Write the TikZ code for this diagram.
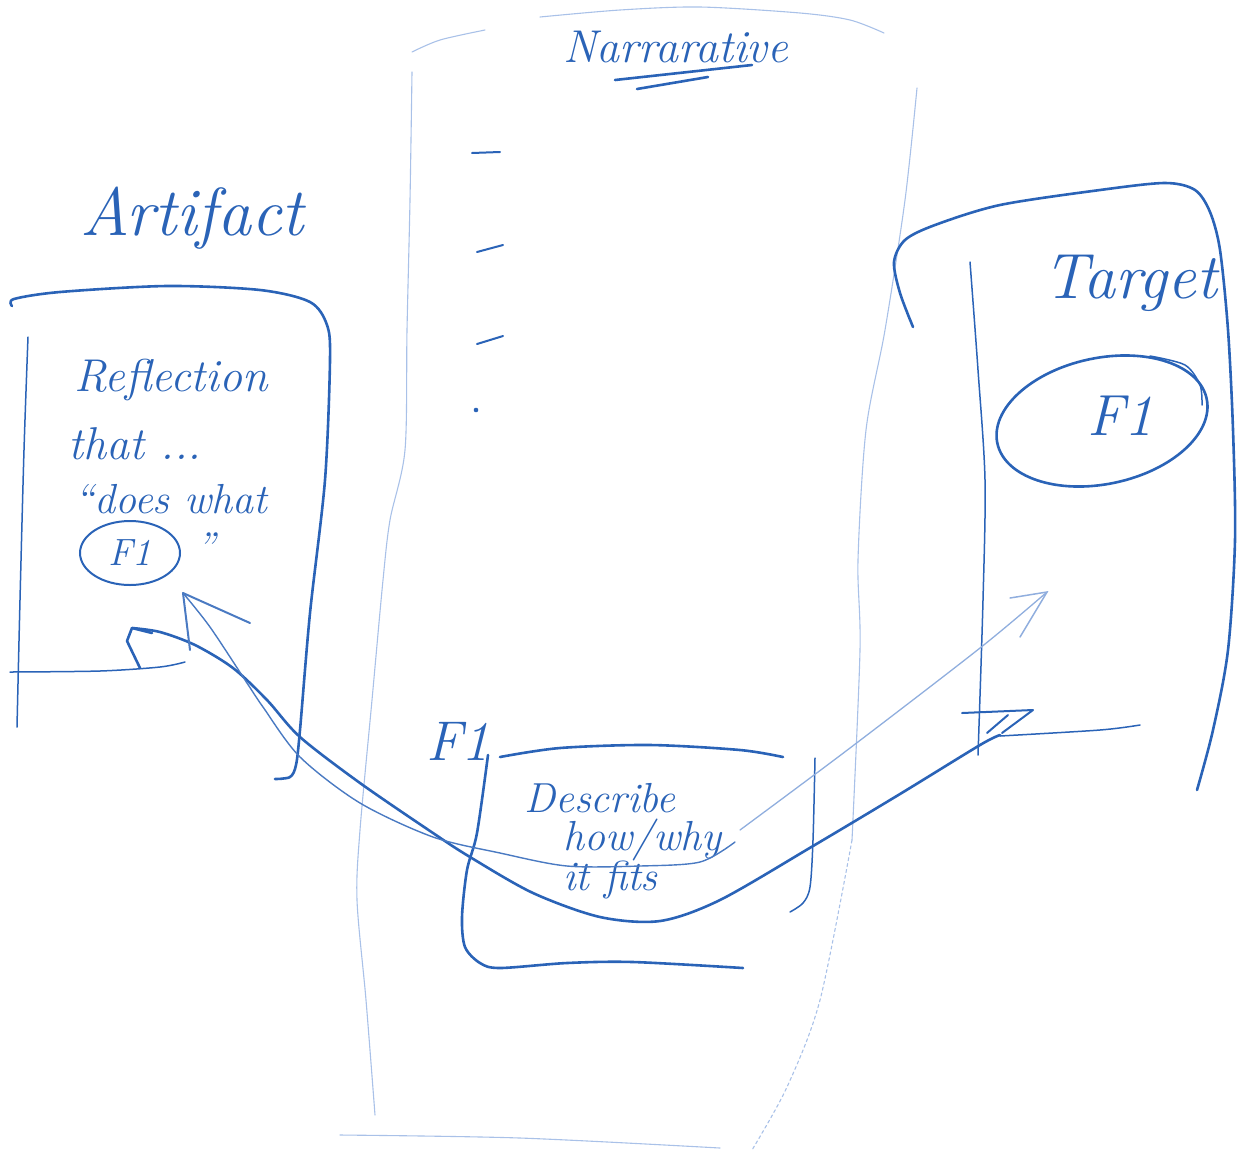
\documentclass[tikz,border=0pt]{standalone}
\usetikzlibrary{shapes.geometric}
\definecolor{ink}{HTML}{2A63B7}
\definecolor{pale}{HTML}{A9C1E8}
\begin{document}
\begin{tikzpicture}[x=1pt,y=-1pt,
  ink/.style={draw=ink,line width=2.6pt,line cap=round,line join=round},
  inkthin/.style={draw=ink,line width=1.5pt,line cap=round,line join=round},
  paleline/.style={draw=pale,line width=1.1pt,line cap=round,line join=round},
  hand/.style={text=ink,inner sep=0pt,anchor=base west},
  fs/.style={font=\fontsize{#1}{#1}\selectfont\itshape},
]
\useasboundingbox (0,0) rectangle (1257,1163);

% ---------------- Narrative column ----------------
\draw[paleline] plot[smooth] coordinates {(412,52)(440,40)(485,30)};
\draw[paleline] plot[smooth] coordinates {(540,17)(620,10)(700,7)(800,13)(850,20)(884,33)};
\draw[paleline] plot[smooth] coordinates {(412,72)(410,200)(407,330)(405,450)(390,520)(383,580)(372,700)(360,830)(357,900)(366,1000)(375,1115)};
\draw[paleline] plot[smooth] coordinates {(340,1135)(520,1138)(720,1148)};
\draw[paleline] plot[smooth] coordinates {(917,88)(905,200)(885,330)(866,430)(858,560)(860,650)(852,840)};
\draw[paleline,dashed] plot[smooth] coordinates {(852,840)(820,1000)(787,1087)(752,1150)};
\node[hand,fs=46] (narr) at (563,62) {Narrarative};
\draw[ink] (615,80) -- (752,65);
\draw[ink] (637,89) -- (708,77);
\coordinate (t1a) at (472,153); \coordinate (t1b) at (500,152);
\coordinate (t2a) at (477,252); \coordinate (t2b) at (503,245);
\coordinate (t3a) at (477,344); \coordinate (t3b) at (503,336);
\draw[inkthin,line width=2pt] (t1a) -- (t1b);
\draw[inkthin,line width=2pt] (t2a) -- (t2b);
\draw[inkthin,line width=2pt] (t3a) -- (t3b);
\fill[ink] (476,410) circle (1.3);

% ---------------- Artifact ----------------
\node[hand,fs=68] (art) at (80,235) {Artifact};
\draw[ink] plot[smooth] coordinates {(12,306)(14,299)(60,292)(167,286)(260,290)(310,302)(327,325)(330,360)(325,480)(310,613)(300,730)(296,765)(290,777)(275,779)};
\draw[inkthin] plot[smooth] coordinates {(28,337)(24,450)(20,600)(17,727)};
\draw[inkthin] plot[smooth] coordinates {(10,672)(100,671)(160,667)(185,662)};
\node[hand,fs=46] (refl) at (74,391) {Reflection};
\node[hand,fs=46] (that) at (68,459) {that ...};
\node[hand,fs=42] (does) at (74,513) {``does what};
\node[ellipse,draw=ink,line width=2pt,minimum width=100pt,minimum height=64pt,inner sep=0pt,text=ink,fs=38] (af1) at (130,553) {F1};
\node[hand,fs=40] (rq) at (196,560) {''};

% ---------------- Describe box ----------------
\node[hand,fs=56] (f1lab) at (426,760) {F1};
\draw[ink] plot[smooth] coordinates {(500,757)(560,748)(650,745)(740,750)(783,757)};
\draw[ink] plot[smooth] coordinates {(488,755)(477,833)(467,870)(462,917)(465,947)(480,963)(500,968)(567,963)(633,962)(743,968)};
\draw[inkthin] plot[smooth] coordinates {(815,758)(813,840)(810,887)(803,903)(790,912)};
\node[hand,fs=42] (desc1) at (524,812) {Describe};
\node[hand,fs=42] (desc2) at (563,850) {how/why};
\node[hand,fs=42] (desc3) at (563,890) {it fits};

% ---------------- Target ----------------
\draw[ink] plot[smooth] coordinates {(913,327)(900,293)(894,262)(905,240)(935,225)(1000,205)(1100,190)(1165,183)(1195,190)(1210,212)(1220,250)(1228,330)(1233,430)(1235,540)(1228,650)(1213,730)(1197,790)};
\draw[inkthin] plot[smooth] coordinates {(970,262)(978,370)(985,480)(983,600)(978,755)};
\node[hand,fs=64] (targ) at (1043,298) {Target};
\draw[ink,rotate around={12:(1102,421)}] (1102,421) ellipse [x radius=107, y radius=63];
\draw[inkthin] plot[smooth] coordinates {(1150,356)(1185,365)(1200,385)(1202,405)};
\node[text=ink,fs=58,inner sep=0pt] (tf1) at (1120,416) {F1};
\draw[inkthin] plot[smooth] coordinates {(1000,736)(1100,730)(1140,725)};

% ---------------- Arrows ----------------
\coordinate (hA) at (132,628);
\coordinate (hB) at (183,593);
\coordinate (eA) at (1033,710);
\coordinate (eB) at (1047,592);
% thick connector: artifact <-> target through the box
\draw[ink] plot[smooth] coordinates {(hA)(160,632)(195,645)(233,668)(267,700)(300,737)(360,783)(433,833)(470,857)(533,893)(600,917)(660,921)(720,900)(813,846)(900,794)(980,745)(1000,735)};
\draw[ink] (140,668) -- (127,641) -- (hA) -- (152,633);
\draw[inkthin,line width=2pt] (962,713) -- (eA) -- (1002,733);
\draw[inkthin,line width=2pt] (987,733) -- (1008,715);
% thin connector
\draw[draw=ink!85,line width=1.4pt,line cap=round] plot[smooth] coordinates {(hB)(210,627)(247,683)(263,707)(300,757)(360,803)(433,837)(500,853)(567,866)(640,866)(700,862)(735,842)};
\draw[draw=ink!85,line width=2pt,line cap=round] (hB) -- (190,650);
\draw[draw=ink!85,line width=2pt,line cap=round] (hB) -- (250,623);
\draw[draw=pale!80!ink,line width=1.3pt,line cap=round] plot[smooth] coordinates {(740,830)(850,748)(980,648)(eB)};
\draw[draw=pale!80!ink,line width=1.5pt,line cap=round] (1010,598) -- (eB) -- (1020,637);
\end{tikzpicture}
\end{document}
